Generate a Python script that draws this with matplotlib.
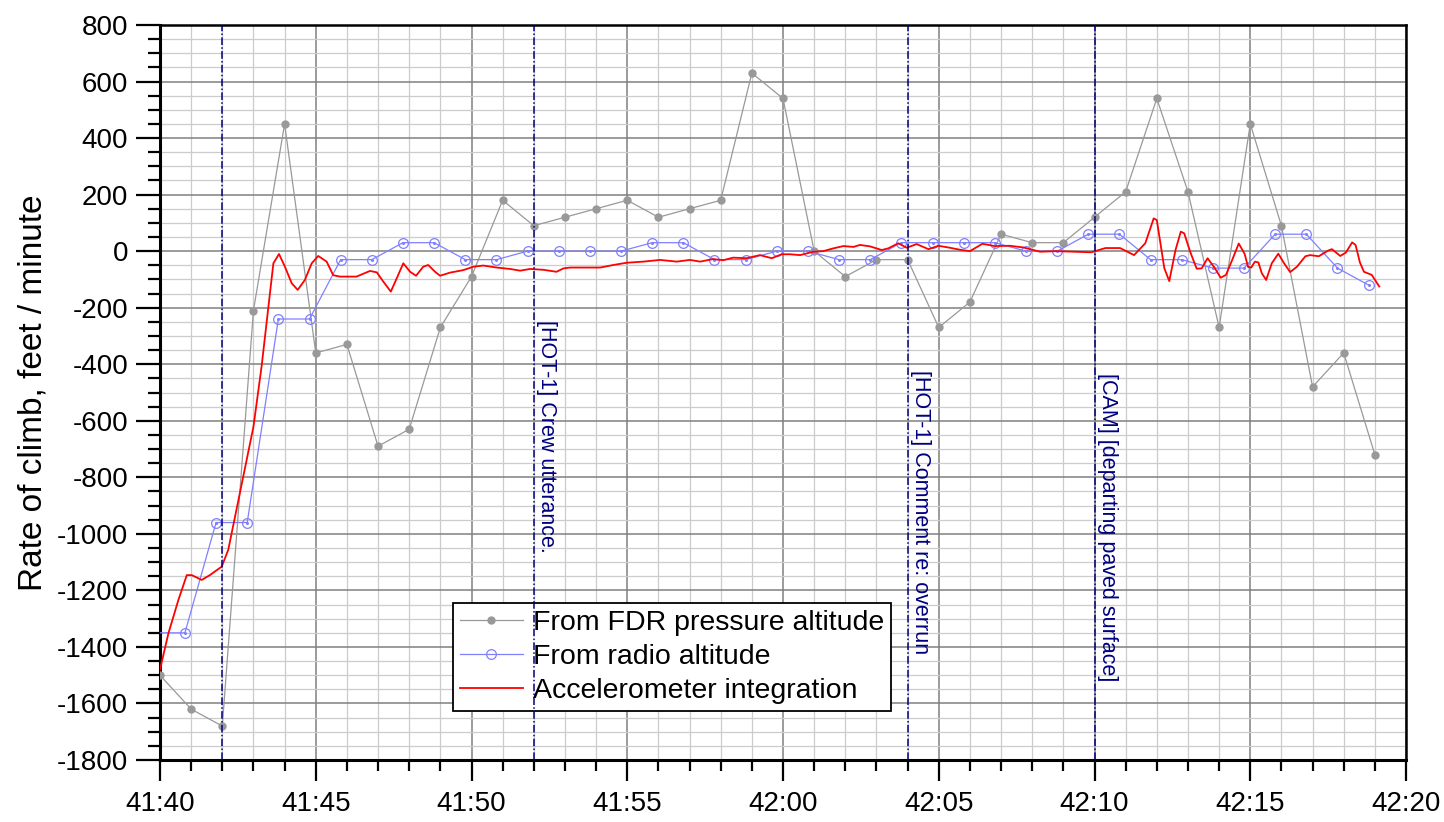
import matplotlib
matplotlib.use("Agg")
import matplotlib.pyplot as plt
from matplotlib.ticker import MultipleLocator, FuncFormatter

plt.rcParams['font.family'] = ['Liberation Sans', 'DejaVu Sans']
plt.rcParams['axes.unicode_minus'] = False

# time axis: seconds after 41:40
T0 = 41 * 60 + 40

# rate of climb from FDR pressure altitude, one sample per second
fdr_t = list(range(40))
fdr_v = [-1500, -1620, -1680, -210, 450, -360, -330, -690, -630, -270,
         -90, 180, 90, 120, 150, 180, 120, 150, 180, 630,
         540, 0, -90, -30, -30, -270, -180, 60, 30, 30,
         120, 210, 540, 210, -270, 450, 90, -480, -360, -720]

# rate of climb from radio altitude (samples offset by -0.2 s)
radio_t = [k - 0.2 for k in range(40)]
radio_v = [-1350, -1350, -960, -960, -240, -240, -30, -30, 30, 30,
           -30, -30, 0, 0, 0, 0, 30, 30, -30, -30,
           0, 0, -30, -30, 30, 30, 30, 30, 0, 0,
           60, 60, -30, -30, -60, -60, 60, 60, -60, -120]

# integrated vertical acceleration
acc_t = [0.0, 0.27, 0.59, 0.86, 1.02, 1.34, 1.6, 1.98, 2.19, 2.41,
         2.67, 3.0, 3.26, 3.48, 3.64, 3.82, 4.01, 4.23, 4.42, 4.65,
         4.87, 5.08, 5.35, 5.56, 5.78, 6.31, 6.74, 6.96, 7.17, 7.41,
         7.6, 7.81, 8.03, 8.22, 8.45, 8.61, 8.83, 8.99, 9.31, 9.74,
         10.06, 10.38, 10.81, 11.24, 11.56, 11.88, 12.31, 12.73, 12.95, 13.16,
         13.59, 14.13, 14.55, 14.98, 15.52, 16.05, 16.59, 17.01, 17.34, 17.76,
         18.08, 18.4, 18.83, 19.26, 19.64, 19.96, 20.22, 20.55, 20.97, 21.29,
         21.62, 21.94, 22.26, 22.47, 22.79, 23.17, 23.38, 23.7, 23.97, 24.29,
         24.67, 24.99, 25.36, 25.68, 26.0, 26.4, 26.8, 27.29, 27.72, 28.25,
         28.78, 29.32, 29.9, 30.35, 30.82, 31.27, 31.63, 31.9, 32.0, 32.24,
         32.4, 32.6, 32.77, 32.88, 33.07, 33.28, 33.44, 33.63, 33.85, 34.05,
         34.22, 34.42, 34.63, 34.82, 34.93, 35.03, 35.15, 35.26, 35.37, 35.51,
         35.69, 35.9, 36.08, 36.28, 36.5, 36.77, 36.92, 37.2, 37.5, 37.62,
         37.89, 38.07, 38.27, 38.38, 38.52, 38.65, 38.9, 39.14]
acc_v = [-1480, -1352, -1234, -1146, -1146, -1163, -1146, -1116, -1057, -939,
         -798, -621, -409, -196, -43, -10, -55, -114, -137, -102,
         -43, -17, -37, -85, -90, -90, -70, -75, -108, -143,
         -96, -43, -73, -87, -55, -49, -73, -87, -76, -67,
         -55, -51, -58, -63, -69, -63, -66, -73, -61, -58,
         -58, -58, -49, -41, -37, -31, -37, -31, -37, -28,
         -32, -23, -25, -14, -25, -11, -11, -14, -2, 0,
         10, 18, 15, 22, 17, 4, 10, 28, 12, 25,
         7, 19, 12, 5, 0, 26, 18, 19, 13, -2,
         0, -2, -4, 11, 11, -14, 28, 116, 110, -60,
         -106, 4, 69, 63, -2, -62, -61, -25, -58, -94,
         -84, -31, 27, -10, -56, -58, -37, -40, -78, -102,
         -43, -9, -42, -74, -55, -18, -14, -18, 2, 7,
         -17, -5, 31, 22, -40, -73, -84, -125]

# cockpit voice recorder events
event_t = [2, 12, 24, 30]
event_text = ["", "[HOT-1] Crew utterance.", "[HOT-1] Comment re: overrun",
              "[CAM] [departing paved surface]"]
event_text_top = [0, -245, -420, -432]

fig = plt.figure(figsize=(14.44, 8.22), dpi=100)
ax = fig.add_axes([0.1108, 0.0754, 0.8629, 0.8942])

ax.plot(fdr_t, fdr_v, color='#999999', lw=0.9, marker='o', ms=5,
        mfc='#999999', mec='#999999', label='From FDR pressure altitude', zorder=3)
ax.plot(radio_t, radio_v, color='#8080ff', lw=0.9, marker='o', ms=7,
        mfc='none', mec='#8080ff', mew=0.9, label='From radio altitude', zorder=3)
ax.plot(radio_t, radio_v, ls='none', marker='o', ms=1.2, color='#8080ff', zorder=3)
ax.plot(acc_t, acc_v, color='red', lw=1.3, label='Accelerometer integration', zorder=4)

for t, txt, top in zip(event_t, event_text, event_text_top):
    ax.axvline(t, color='#000080', lw=1.1, ls=(0, (5, 1.5, 1, 1.5)), zorder=6)
    if txt:
        ax.text(t + 0.07, top, txt, rotation=-90, ha='left', va='top',
                fontsize=15.5, color='#000080', zorder=6)

ax.set_xlim(0, 40)
ax.set_ylim(-1800, 800)
ax.xaxis.set_major_locator(MultipleLocator(5))
ax.xaxis.set_minor_locator(MultipleLocator(1))
ax.yaxis.set_major_locator(MultipleLocator(200))
ax.yaxis.set_minor_locator(MultipleLocator(50))


def clock(x, pos):
    tot = T0 + int(round(x))
    return f"{tot // 60}:{tot % 60:02d}"


ax.xaxis.set_major_formatter(FuncFormatter(clock))

ax.grid(which='major', color='#808080', lw=1.1, zorder=0)
ax.grid(which='minor', color='#cccccc', lw=0.9, zorder=0)
ax.set_axisbelow(True)

ax.tick_params(which='major', direction='out', length=17, width=1.6,
               labelsize=20, pad=6)
ax.tick_params(which='minor', direction='out', length=9, width=1.6)
ax.tick_params(axis='x', which='major', length=15, pad=7)
ax.tick_params(axis='x', which='minor', length=8)
for side in ['left', 'bottom']:
    ax.spines[side].set_linewidth(2.2)
for side in ['top', 'right']:
    ax.spines[side].set_linewidth(1.8)

ax.set_ylabel('Rate of climb, feet / minute', fontsize=24, labelpad=6)

leg = ax.legend(loc='upper left', bbox_to_anchor=(0.235, 0.2136), borderaxespad=0,
                fontsize=20.5, fancybox=False, framealpha=1, edgecolor='black',
                handlelength=2.2, handletextpad=0.35, labelspacing=0.28,
                borderpad=0.25)
leg.get_frame().set_linewidth(1.3)
leg.set_zorder(5)

fig.savefig('out.png', dpi=100)
